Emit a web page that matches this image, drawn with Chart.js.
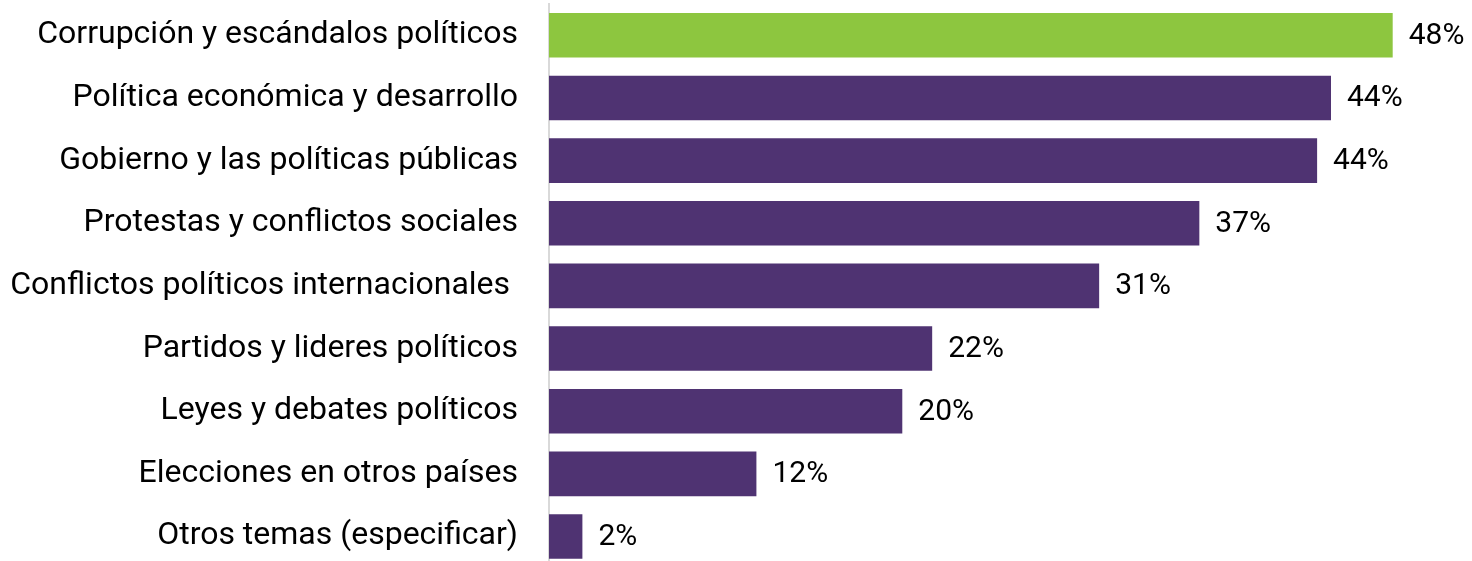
<!DOCTYPE html>
<html>
<head>
<meta charset="utf-8">
<script src="https://cdn.jsdelivr.net/npm/chart.js@4"></script>
<style>
    html, body { margin: 0; padding: 0; background: #ffffff; overflow: hidden; }
    canvas { display: block; }
</style>
</head>
<body>
<canvas id="temasChart" width="1472" height="571"></canvas>
<script>

/***************************************************/
/********************** DATA ***********************/
/***************************************************/
const categories = [
    'Corrupción y escándalos políticos',
    'Política económica y desarrollo',
    'Gobierno y las políticas públicas',
    'Protestas y conflictos sociales',
    'Conflictos políticos internacionales ',
    'Partidos y lideres políticos',
    'Leyes y debates políticos',
    'Elecciones en otros países',
    'Otros temas (especificar)'
];
const values = [48.0, 44.49, 43.7, 37.0, 31.3, 21.8, 20.1, 11.8, 1.9];

const c_green = '#8dc63f';
const c_purple = '#4f3372';
const c_axis = '#d9d9d9';
const fontFamily = 'Roboto, "Noto Sans", sans-serif';

Chart.defaults.font.family = fontFamily;

/***************************************************/
/*************** VALUE LABEL PLUGIN ****************/
/***************************************************/
const valueLabels = {
    id: 'valueLabels',
    afterDatasetsDraw(chart) {
        const ctx = chart.ctx;
        const meta = chart.getDatasetMeta(0);
        ctx.save();
        ctx.font = '30px ' + fontFamily;
        ctx.fillStyle = '#000000';
        ctx.textAlign = 'left';
        ctx.textBaseline = 'middle';
        meta.data.forEach(function (bar, i) {
            ctx.fillText(Math.round(values[i]) + '%', bar.x + 16, bar.y + 1);
        });
        ctx.restore();
    }
};

// bar colours: first one highlighted
var barColors = values.map(function (v, i) { return i === 0 ? c_green : c_purple; });

var data = {
    labels: categories,
    datasets: [{
        data: values,
        backgroundColor: barColors,
        borderWidth: 0,
        categoryPercentage: 1.0,
        barPercentage: 0.712
    }]
};

var options = {
    indexAxis: 'y',
    responsive: false,
    animation: false,
    layout: {
        padding: { top: 4, bottom: 0, left: 0, right: 9 }
    },
    plugins: {
        legend: { display: false },
        tooltip: { enabled: false }
    },
    scales: {
        x: {
            display: false,
            min: 0,
            max: 52
        },
        y: {
            afterFit: function (scale) { scale.width = 549; },
            // invisible tick marks give the gap between labels and axis
            grid: { display: false, drawTicks: true, tickLength: 31, tickColor: 'rgba(0,0,0,0)' },
            border: { display: true, color: c_axis, width: 2 },
            ticks: {
                color: '#000000',
                padding: 0,
                font: { size: 32, lineHeight: 0.2 }
            }
        }
    }
};

const ctx = document.getElementById('temasChart').getContext('2d');
const temasChart = new Chart(ctx, {
    type: 'bar',
    data: data,
    options: options,
    plugins: [valueLabels]
});
</script>
</body>
</html>
